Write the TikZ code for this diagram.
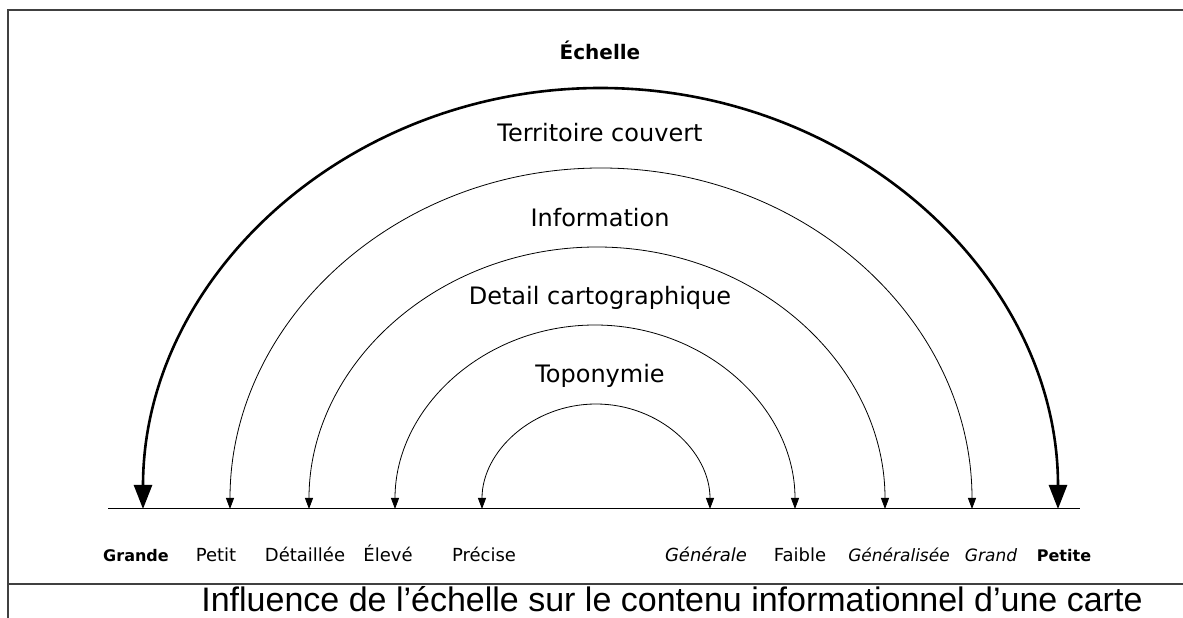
\documentclass[tikz,border=0pt]{standalone}
\usepackage{fontspec}
\setmainfont{DejaVu Sans}
\newfontfamily\capfont{Liberation Sans}
\usetikzlibrary{arrows.meta}

\tikzset{
  bigarc/.style={line width=2.6pt,{Triangle[length=24pt,width=18pt]}-{Triangle[length=24pt,width=18pt]}},
  smallarc/.style={line width=0.8pt,{Triangle[length=11pt,width=8pt]}-{Triangle[length=11pt,width=8pt]}},
  arclbl/.style={anchor=base,font=\fontsize{24}{28}\selectfont},
  endlbl/.style={anchor=base,font=\fontsize{18}{22}\selectfont},
}

\begin{document}
\begin{tikzpicture}[x=1pt,y=1pt]
\useasboundingbox (0,0) rectangle (1183,618);
\draw[line width=1.2pt,black!75] (1183,608) -- (8,608) -- (8,0);
\draw[line width=1.2pt,black!75] (8,34) -- (1183,34);
\node[anchor=base,inner sep=0pt,font=\capfont\fontsize{34}{36}\selectfont] (cap) at (672,6) {Influence de l’échelle sur le contenu informationnel d’une carte};

\coordinate (bl) at (108,109);
\coordinate (br) at (1080,109);
\draw[line width=1pt] (bl) -- (br);

\coordinate (a1) at (143,109);
\coordinate (a2) at (230,109);
\coordinate (a3) at (309,109);
\coordinate (a4) at (395,109);
\coordinate (a5) at (482,109);
\draw[bigarc] (a1) arc[start angle=180,end angle=0,x radius=457.5,y radius=421];
\draw[smallarc] (a2) arc[start angle=180,end angle=0,x radius=371,y radius=341];
\draw[smallarc] (a3) arc[start angle=180,end angle=0,x radius=288,y radius=262];
\draw[smallarc] (a4) arc[start angle=180,end angle=0,x radius=200,y radius=184];
\draw[smallarc] (a5) arc[start angle=180,end angle=0,x radius=114,y radius=105];

\node[arclbl,font=\fontsize{20}{24}\selectfont\bfseries] (echelle) at (600,558) {Échelle};
\node[arclbl] (territoire) at (600,476) {Territoire couvert};
\node[arclbl] (info) at (600,391) {Information};
\node[arclbl] (detail) at (600,313) {Detail cartographique};
\node[arclbl] (topo) at (600,235) {Toponymie};

\node[endlbl,font=\fontsize{16}{20}\selectfont\bfseries] (grande) at (136,56) {Grande};
\node[endlbl] (petit) at (216,56) {Petit};
\node[endlbl] (detaillee) at (305,56) {Détaillée};
\node[endlbl] (eleve) at (388,56) {Élevé};
\node[endlbl] (precise) at (484,56) {Précise};
\node[endlbl,font=\fontsize{18}{22}\selectfont\itshape] (generale) at (706,56) {Générale};
\node[endlbl] (faible) at (800,56) {Faible};
\node[endlbl,font=\fontsize{17}{22}\selectfont\itshape] (generalisee) at (899,56) {Généralisée};
\node[endlbl,font=\fontsize{17}{22}\selectfont\itshape] (grand) at (991,56) {Grand};
\node[endlbl,font=\fontsize{16}{20}\selectfont\bfseries] (petite) at (1064,56) {Petite};
\end{tikzpicture}
\end{document}
